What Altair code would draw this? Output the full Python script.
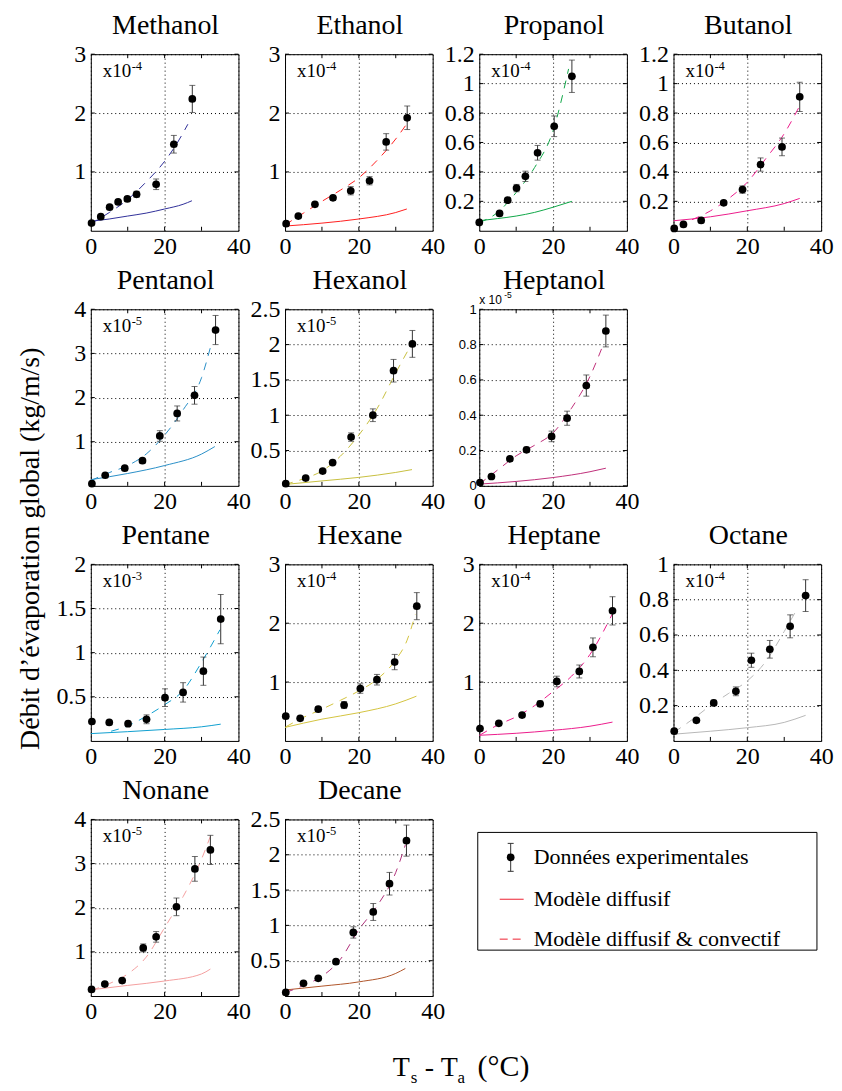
import altair as alt
import pandas as pd

SERIF = "Liberation Serif"
SANS = "Liberation Sans"
W, H = 148, 177

X_LABELS = [0, 20, 40]
X_INNER_TICKS = [10, 20, 30]

LEGEND_LABELS = ["Données experimentales", "Modèle diffusif", "Modèle diffusif & convectif"]
Y_TITLE = "Débit d’évaporation global (kg/m/s)"

# ---- data (values in units of the panel's power of ten) ----
METHANOL = dict(
    t=[0.2, 2.7, 5.1, 7.4, 9.9, 12.4, 17.7, 22.5, 27.5],
    q=[0.13, 0.24, 0.40, 0.49, 0.54, 0.62, 0.79, 1.47, 2.24],
    err=[0.02, 0.02, 0.03, 0.03, 0.04, 0.05, 0.09, 0.15, 0.23],
    conv_t=[0, 5, 10, 15, 20, 23, 26.3],
    conv_q=[0.12, 0.31, 0.53, 0.83, 1.18, 1.45, 1.81],
    diff_t=[0, 5, 10, 15, 20, 25, 27.4],
    diff_q=[0.16, 0.20, 0.25, 0.30, 0.37, 0.45, 0.51],
)
ETHANOL = dict(
    t=[0.3, 3.6, 8.1, 13.0, 17.8, 22.9, 27.4, 33.1],
    q=[0.12, 0.25, 0.45, 0.56, 0.68, 0.85, 1.51, 1.92],
    err=[0.02, 0.02, 0.03, 0.04, 0.07, 0.07, 0.14, 0.20],
    conv_t=[0, 5, 10, 15, 20, 25, 30, 32.8],
    conv_q=[0.10, 0.30, 0.50, 0.69, 0.90, 1.20, 1.56, 1.80],
    diff_t=[0, 10, 20, 30, 33],
    diff_q=[0.08, 0.13, 0.20, 0.31, 0.37],
)
PROPANOL = dict(
    t=[0, 5.5, 7.7, 10.1, 12.5, 15.8, 20.3, 25.1],
    q=[0.057, 0.118, 0.208, 0.29, 0.37, 0.53, 0.71, 1.05],
    err=[0.01, 0.01, 0.015, 0.025, 0.035, 0.05, 0.07, 0.11],
    conv_t=[0, 5, 10, 15, 20, 24.2],
    conv_q=[0.055, 0.125, 0.26, 0.43, 0.68, 1.10],
    diff_t=[0, 5, 10, 15, 20, 25.1],
    diff_q=[0.068, 0.083, 0.10, 0.125, 0.16, 0.20],
)
BUTANOL = dict(
    t=[0.2, 2.7, 7.5, 13.6, 18.7, 23.6, 29.4, 34.2],
    q=[0.016, 0.043, 0.07, 0.19, 0.28, 0.45, 0.57, 0.91],
    err=[0.005, 0.005, 0.008, 0.015, 0.025, 0.045, 0.06, 0.10],
    conv_t=[5, 10, 15, 20, 25, 30, 34],
    conv_q=[0.075, 0.135, 0.22, 0.33, 0.49, 0.66, 0.84],
    diff_t=[0, 10, 20, 30, 34.2],
    diff_q=[0.068, 0.095, 0.136, 0.185, 0.22],
)
PENTANOL = dict(
    t=[0.3, 3.9, 9.2, 14.0, 18.7, 23.4, 28.1, 33.8],
    q=[0.05, 0.24, 0.40, 0.57, 1.13, 1.64, 2.05, 3.53],
    err=[0.02, 0.03, 0.04, 0.05, 0.12, 0.17, 0.20, 0.33],
    conv_t=[0, 5, 10, 15, 20, 25, 30, 32.7],
    conv_q=[0.12, 0.30, 0.46, 0.72, 1.15, 1.72, 2.45, 3.23],
    diff_t=[0, 10, 20, 30, 33.6],
    diff_q=[0.14, 0.28, 0.46, 0.72, 0.89],
)
HEXANOL = dict(
    t=[0.2, 5.6, 10.2, 12.9, 17.9, 23.8, 29.4, 34.5],
    q=[0.03, 0.11, 0.21, 0.33, 0.69, 1.00, 1.63, 2.01],
    err=[0.01, 0.015, 0.02, 0.03, 0.06, 0.09, 0.16, 0.19],
    conv_t=[0, 5, 10, 15, 20, 25, 30, 34.4],
    conv_q=[0.02, 0.10, 0.21, 0.42, 0.72, 1.10, 1.60, 2.02],
    diff_t=[0, 10, 20, 30, 34.4],
    diff_q=[0.02, 0.07, 0.12, 0.19, 0.23],
)
HEPTANOL = dict(
    t=[0.2, 3.3, 8.3, 12.8, 19.6, 23.8, 29.0, 34.3],
    q=[0.019, 0.053, 0.153, 0.204, 0.28, 0.383, 0.568, 0.877],
    err=[0.005, 0.008, 0.012, 0.015, 0.03, 0.04, 0.06, 0.09],
    conv_t=[0, 5, 10, 15, 20, 25, 30, 33.4],
    conv_q=[0.01, 0.09, 0.17, 0.23, 0.30, 0.44, 0.62, 0.79],
    diff_t=[0, 10, 20, 30, 34.3],
    diff_q=[0.01, 0.025, 0.047, 0.08, 0.10],
)
PENTANE = dict(
    t=[0.3, 5.0, 10.1, 15.1, 20.1, 25.0, 30.5, 35.2],
    q=[0.22, 0.21, 0.196, 0.245, 0.49, 0.55, 0.79, 1.38],
    err=[0.02, 0.02, 0.025, 0.05, 0.10, 0.11, 0.16, 0.28],
    conv_t=[5.5, 10, 15, 20, 25, 30, 35],
    conv_q=[0.11, 0.17, 0.28, 0.41, 0.57, 0.89, 1.26],
    diff_t=[0, 10, 20, 30, 35.2],
    diff_q=[0.083, 0.105, 0.13, 0.16, 0.19],
)
HEXANE = dict(
    t=[0.2, 4.1, 9.0, 16.0, 20.4, 24.9, 29.7, 35.7],
    q=[0.42, 0.385, 0.54, 0.61, 0.89, 1.04, 1.34, 2.29],
    err=[0.03, 0.03, 0.04, 0.06, 0.08, 0.09, 0.13, 0.23],
    conv_t=[0.2, 5, 10, 15, 20, 25, 30, 33, 35.3],
    conv_q=[0.24, 0.40, 0.54, 0.69, 0.85, 1.05, 1.38, 1.70, 2.15],
    diff_t=[0, 10, 20, 30, 35.6],
    diff_q=[0.23, 0.37, 0.48, 0.63, 0.76],
)
HEPTANE = dict(
    t=[0.2, 5.3, 11.6, 16.5, 21.0, 27.1, 30.8, 36.1],
    q=[0.21, 0.30, 0.44, 0.63, 1.01, 1.18, 1.59, 2.21],
    err=[0.02, 0.02, 0.03, 0.05, 0.09, 0.11, 0.16, 0.24],
    conv_t=[0.2, 5, 10, 15, 20, 25, 30, 36],
    conv_q=[0.10, 0.27, 0.41, 0.60, 0.84, 1.10, 1.47, 2.15],
    diff_t=[0, 10, 20, 30, 36.1],
    diff_q=[0.096, 0.13, 0.18, 0.25, 0.32],
)
OCTANE = dict(
    t=[0.2, 6.2, 10.9, 16.9, 21.1, 26.1, 31.6, 35.8],
    q=[0.055, 0.117, 0.215, 0.281, 0.457, 0.519, 0.649, 0.823],
    err=[0.005, 0.008, 0.015, 0.025, 0.04, 0.05, 0.065, 0.09],
    conv_t=[0.2, 5, 10, 15, 20, 25, 30, 33.7],
    conv_q=[0.05, 0.12, 0.20, 0.27, 0.34, 0.45, 0.62, 0.755],
    diff_t=[0, 10, 20, 30, 35.8],
    diff_q=[0.038, 0.055, 0.075, 0.105, 0.145],
)
NONANE = dict(
    t=[0.2, 3.8, 8.5, 14.2, 17.7, 23.2, 28.2, 32.4],
    q=[0.15, 0.27, 0.35, 1.09, 1.34, 2.02, 2.88, 3.31],
    err=[0.02, 0.03, 0.03, 0.09, 0.12, 0.20, 0.28, 0.33],
    conv_t=[0.2, 5, 10, 15, 20, 25, 30, 32.4],
    conv_q=[0.13, 0.28, 0.50, 0.88, 1.55, 2.25, 3.10, 3.62],
    diff_t=[0, 10, 20, 30, 32.4],
    diff_q=[0.14, 0.24, 0.34, 0.50, 0.61],
)
DECANE = dict(
    t=[0.2, 5.0, 9.0, 13.8, 18.5, 23.9, 28.3, 32.9],
    q=[0.05, 0.18, 0.25, 0.486, 0.90, 1.19, 1.59, 2.20],
    err=[0.01, 0.015, 0.02, 0.03, 0.08, 0.12, 0.16, 0.22],
    conv_t=[0.2, 5, 10, 15, 20, 25, 30, 32.6],
    conv_q=[0.05, 0.15, 0.28, 0.52, 0.94, 1.28, 1.75, 2.14],
    diff_t=[0, 10, 20, 30, 32.6],
    diff_q=[0.085, 0.14, 0.20, 0.32, 0.39],
)

YT_A = [1, 2, 3]
YT_B = [0.2, 0.4, 0.6, 0.8, 1, 1.2]
YT_C = [1, 2, 3, 4]
YT_D = [0.5, 1, 1.5, 2, 2.5]
YT_E = [0, 0.2, 0.4, 0.6, 0.8, 1]
YT_F = [0.5, 1, 1.5, 2]
YT_G = [0.2, 0.4, 0.6, 0.8, 1]

LEGEND_RED = "#ee2030"

one_row = pd.DataFrame({"k": [0]})


def panel(title, d, ymax, yticks, exp, c_conv, c_diff, small_axis=False, extra=None):
    pts = pd.DataFrame({
        "t": d["t"], "q": d["q"],
        "lo": [q - e for q, e in zip(d["q"], d["err"])],
        "hi": [q + e for q, e in zip(d["q"], d["err"])],
    })
    conv = pd.DataFrame({"t": d["conv_t"], "q": d["conv_q"]})
    diff = pd.DataFrame({"t": d["diff_t"], "q": d["diff_q"]})
    yt = pd.DataFrame({"v": yticks})
    xt = pd.DataFrame({"v": X_INNER_TICKS})

    xs = alt.Scale(domain=[0, 40], nice=False, zero=False)
    ys = alt.Scale(domain=[0, ymax], nice=False, zero=False)
    xax = alt.Axis(values=X_LABELS, title=None, grid=True, gridColor="black",
                   gridDash=[1, 3], gridWidth=1, gridOpacity=1, domain=False,
                   tickSize=0, labelFont=SERIF, labelFontSize=24, labelColor="black",
                   labelPadding=4, labelFlush=False, labelOverlap=False)
    yax = alt.Axis(values=yticks, format="~g", title=None, grid=True, gridColor="black",
                   gridDash=[1, 3], gridWidth=1, gridOpacity=1, domain=False,
                   tickSize=0, labelFont=SANS if small_axis else SERIF,
                   labelFontSize=13 if small_axis else 24, labelColor="black",
                   labelPadding=3 if small_axis else 5, labelFlush=False, labelOverlap=False)

    def X(f):
        return alt.X(f, type="quantitative", scale=xs, axis=xax)

    def Y(f):
        return alt.Y(f, type="quantitative", scale=ys, axis=yax)

    layers = [
        alt.Chart(diff).mark_line(color=c_diff, strokeWidth=1, interpolate="monotone")
        .encode(x=X("t"), y=Y("q")),
        alt.Chart(conv).mark_line(color=c_conv, strokeWidth=1, strokeDash=[8, 7],
                                  interpolate="monotone")
        .encode(x=X("t"), y=Y("q")),
        alt.Chart(pts).mark_rule(color="#333333", strokeWidth=1)
        .encode(x=X("t"), y=Y("lo"), y2="hi"),
        alt.Chart(pts).mark_tick(orient="horizontal", size=6, thickness=1, color="#333333")
        .encode(x=X("t"), y=Y("lo")),
        alt.Chart(pts).mark_tick(orient="horizontal", size=6, thickness=1, color="#333333")
        .encode(x=X("t"), y=Y("hi")),
        alt.Chart(pts).mark_circle(size=60, color="black", opacity=1)
        .encode(x=X("t"), y=Y("q")),
        alt.Chart(xt).mark_rule(color="black", strokeWidth=1)
        .encode(x=X("v"), y=alt.value(0), y2=alt.value(4)),
        alt.Chart(xt).mark_rule(color="black", strokeWidth=1)
        .encode(x=X("v"), y=alt.value(H), y2=alt.value(H - 4)),
        alt.Chart(yt).mark_rule(color="black", strokeWidth=1)
        .encode(y=Y("v"), x=alt.value(0), x2=alt.value(4)),
        alt.Chart(yt).mark_rule(color="black", strokeWidth=1)
        .encode(y=Y("v"), x=alt.value(W), x2=alt.value(W - 4)),
        # panel title
        alt.Chart(one_row).mark_text(text=title, font=SERIF, fontSize=28, align="center",
                                     baseline="alphabetic", color="black")
        .encode(x=alt.value(W / 2 + 1), y=alt.value(-20)),
    ]
    if small_axis:
        layers += [
            alt.Chart(one_row).mark_text(text="x 10", font=SANS, fontSize=12, align="left",
                                         baseline="alphabetic", color="black")
            .encode(x=alt.value(0), y=alt.value(-5)),
            alt.Chart(one_row).mark_text(text=exp, font=SANS, fontSize=8.5, align="left",
                                         baseline="alphabetic", color="black")
            .encode(x=alt.value(25), y=alt.value(-11)),
        ]
    else:
        layers += [
            alt.Chart(one_row).mark_text(text="x10", font=SERIF, fontSize=19, align="left",
                                         baseline="alphabetic", color="black")
            .encode(x=alt.value(12), y=alt.value(23)),
            alt.Chart(one_row).mark_text(text=exp, font=SERIF, fontSize=12.5, align="left",
                                         baseline="alphabetic", color="black")
            .encode(x=alt.value(41), y=alt.value(16)),
        ]
    if extra:
        layers += extra
    return alt.layer(*layers).properties(width=W, height=H)


y_title = [
    alt.Chart(one_row).mark_text(text=Y_TITLE, font=SERIF, fontSize=28, angle=270,
                                 align="center", baseline="middle", color="black")
    .encode(x=alt.value(-60), y=alt.value(240)),
]

x_title = [
    alt.Chart(one_row).mark_text(text=txt, font=SERIF, fontSize=fs, align="left",
                                 baseline="alphabetic", color="black")
    .encode(x=alt.value(xp), y=alt.value(yp))
    for txt, fs, xp, yp in [("T", 28, 108, 257), ("s", 17, 126, 264), ("-", 28, 140, 257),
                            ("T", 28, 156, 257), ("a", 17, 173, 264), ("(°C)", 30, 193, 257)]
]

p_meth = panel("Methanol", METHANOL, 3, YT_A, "-4", "#30309a", "#30309a")
p_eth = panel("Ethanol", ETHANOL, 3, YT_A, "-4", "#ff2020", "#ff2020")
p_prop = panel("Propanol", PROPANOL, 1.2, YT_B, "-4", "#10a848", "#10a848")
p_but = panel("Butanol", BUTANOL, 1.2, YT_B, "-4", "#ec1c8c", "#ec1c8c")
p_pentol = panel("Pentanol", PENTANOL, 4, YT_C, "-5", "#2a90c8", "#2a90c8", extra=y_title)
p_hexol = panel("Hexanol", HEXANOL, 2.5, YT_D, "-5", "#c8c040", "#c8c040")
p_heptol = panel("Heptanol", HEPTANOL, 1, YT_E, "-5", "#c0307a", "#c0307a", small_axis=True)
p_pent = panel("Pentane", PENTANE, 2, YT_F, "-3", "#10a0d0", "#10a0d0")
p_hex = panel("Hexane", HEXANE, 3, YT_A, "-4", "#d4c440", "#d4c440")
p_hept = panel("Heptane", HEPTANE, 3, YT_A, "-4", "#ec1c8c", "#ec1c8c")
p_oct = panel("Octane", OCTANE, 1, YT_G, "-4", "#b8b8b8", "#b8b8b8")
p_non = panel("Nonane", NONANE, 4, YT_C, "-5", "#f4a0a0", "#f4a0a0")
p_dec = panel("Decane", DECANE, 2.5, YT_D, "-5", "#b0307a", "#b0552a", extra=x_title)

blank = (
    alt.Chart(one_row).mark_point(opacity=0)
    .encode(x=alt.value(0), y=alt.value(0))
    .properties(width=W, height=H, view=alt.ViewConfig(stroke="transparent"))
)

LX = -1.5  # legend box starts a little left of the third column
legend = alt.layer(
    alt.Chart(one_row).mark_rect(filled=False, stroke="black", strokeWidth=1)
    .encode(x=alt.value(LX), x2=alt.value(LX + 340), y=alt.value(13), y2=alt.value(131)),
    alt.Chart(one_row).mark_rule(color="#333333", strokeWidth=1)
    .encode(x=alt.value(LX + 33), y=alt.value(24), y2=alt.value(52)),
    alt.Chart(one_row).mark_rule(color="#333333", strokeWidth=1)
    .encode(x=alt.value(LX + 30), x2=alt.value(LX + 36), y=alt.value(24)),
    alt.Chart(one_row).mark_rule(color="#333333", strokeWidth=1)
    .encode(x=alt.value(LX + 30), x2=alt.value(LX + 36), y=alt.value(52)),
    alt.Chart(one_row).mark_circle(size=60, color="black", opacity=1)
    .encode(x=alt.value(LX + 33), y=alt.value(38)),
    alt.Chart(one_row).mark_rule(color=LEGEND_RED, strokeWidth=1)
    .encode(x=alt.value(LX + 22), x2=alt.value(LX + 46), y=alt.value(80)),
    alt.Chart(one_row).mark_rule(color=LEGEND_RED, strokeWidth=1, strokeDash=[8, 5])
    .encode(x=alt.value(LX + 22), x2=alt.value(LX + 47), y=alt.value(120)),
    *[
        alt.Chart(one_row).mark_text(text=lab, font=SERIF, fontSize=22, align="left",
                                     baseline="middle", color="black")
        .encode(x=alt.value(LX + 56), y=alt.value(yp))
        for lab, yp in zip(LEGEND_LABELS, [38, 80, 120])
    ],
).properties(width=W, height=H, view=alt.ViewConfig(stroke="transparent"))

chart = (
    alt.concat(
        p_meth, p_eth, p_prop, p_but,
        p_pentol, p_hexol, p_heptol, blank,
        p_pent, p_hex, p_hept, p_oct,
        p_non, p_dec, legend,
        columns=4, spacing={"row": 78.7, "column": 46.7}, bounds="flush",
    )
    .properties(padding={"left": 8, "top": 2, "right": 0, "bottom": 0}, background="white")
    .configure_view(stroke="black", strokeWidth=1)
)

chart.save("out.html", embed_options={"renderer": "svg", "actions": False})
